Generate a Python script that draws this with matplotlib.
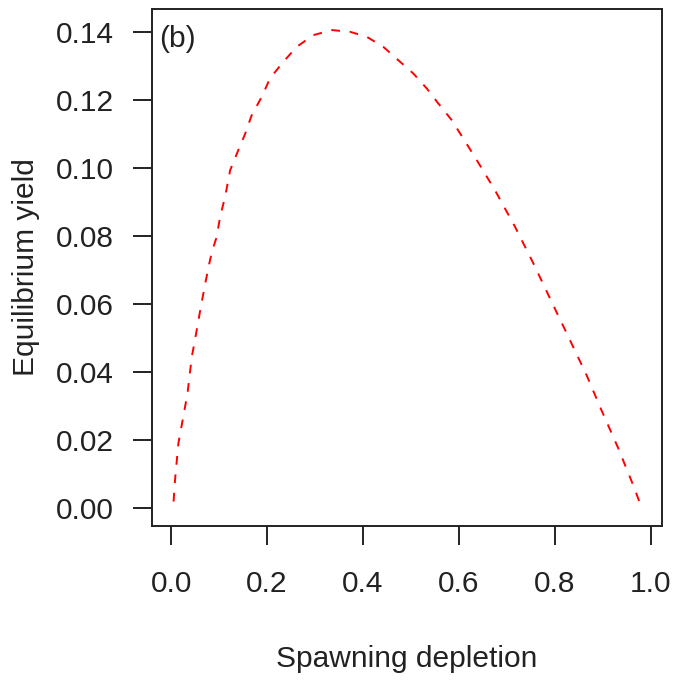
import matplotlib.pyplot as plt

# spawning depletion vs equilibrium yield
depletion = [0.005, 0.008, 0.015, 0.022, 0.034, 0.043, 0.049, 0.057, 0.0625,
             0.071, 0.078, 0.085, 0.095, 0.102, 0.1125, 0.123, 0.140, 0.154,
             0.168, 0.189, 0.206, 0.234, 0.262, 0.296, 0.335, 0.373, 0.408,
             0.442, 0.477, 0.505, 0.533, 0.557, 0.585, 0.609, 0.633, 0.675,
             0.717, 0.755, 0.793, 0.828, 0.866, 0.897, 0.932, 0.963, 0.980]
eq_yield = [0.0019, 0.0082, 0.019, 0.0244, 0.0337, 0.0445, 0.049, 0.0553, 0.0597,
            0.066, 0.071, 0.0754, 0.0798, 0.0857, 0.0916, 0.0994, 0.1053, 0.110,
            0.1156, 0.121, 0.1264, 0.1313, 0.1357, 0.1391, 0.1406, 0.1401, 0.1386,
            0.1357, 0.1313, 0.1278, 0.1234, 0.119, 0.1141, 0.1087, 0.1033, 0.0935,
            0.0827, 0.072, 0.0607, 0.0504, 0.0391, 0.0288, 0.0176, 0.0068, 0.0004]

xticks = [0.0, 0.2, 0.4, 0.6, 0.8, 1.0]
yticks = [0.00, 0.02, 0.04, 0.06, 0.08, 0.10, 0.12, 0.14]

plt.rcParams['font.family'] = ['Liberation Sans', 'DejaVu Sans']
fs = 21.5

fig = plt.figure(figsize=(6.74, 6.82), dpi=100)
ax = fig.add_axes([0.2255, 0.2287, 0.7565, 0.7581])

ax.plot(depletion, eq_yield, color='#ff0000', lw=1.4, dashes=(4.5, 5))

ax.set_xlim(-0.04, 1.023)
ax.set_ylim(-0.0053, 0.1468)
ax.set_xticks(xticks)
ax.set_xticklabels(['%.1f' % v for v in xticks])
ax.set_yticks(yticks)
ax.set_yticklabels(['%.2f' % v for v in yticks])

for s in ax.spines.values():
    s.set_linewidth(1.4)
    s.set_color('#222222')
ax.tick_params(direction='out', length=13.5, width=1.4, color='#222222',
               labelsize=fs, labelcolor='#222222')
ax.tick_params(axis='x', pad=18)
ax.tick_params(axis='y', pad=14)

ax.set_xlabel('Spawning depletion', fontsize=fs, color='#222222', labelpad=34)
ax.set_ylabel('Equilibrium yield', fontsize=fs, color='#222222', labelpad=11)

ax.text(0.014, 0.942, '(b)', transform=ax.transAxes, fontsize=fs,
        color='#222222', ha='left', va='center')

plt.savefig('out.png', dpi=100)
